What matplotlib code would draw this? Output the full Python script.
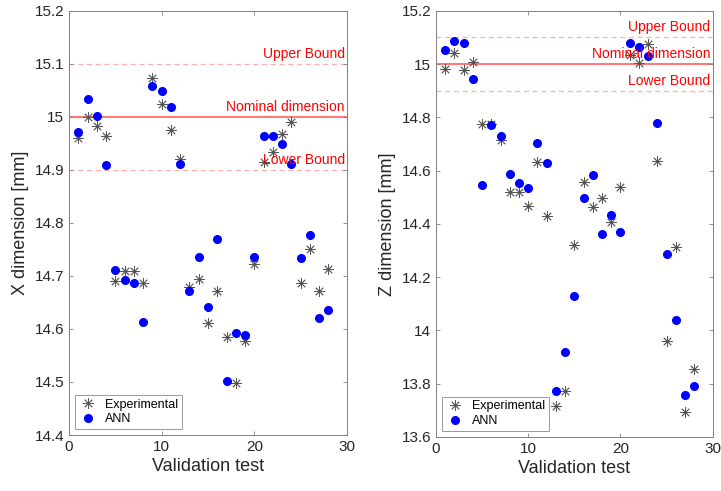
import numpy as np
import matplotlib
matplotlib.use('Agg')
import matplotlib.pyplot as plt
from matplotlib.ticker import FuncFormatter, MultipleLocator

plt.rcParams['font.family'] = ['Liberation Sans', 'DejaVu Sans']

# validation test index
tests = list(range(1, 29))

# X dimension [mm]
x_exp = [14.960, 15.000, 14.983, 14.964, 14.690, 14.710, 14.710, 14.687, 15.073, 15.024,
         14.976, 14.920, 14.679, 14.694, 14.611, 14.672, 14.585, 14.499, 14.577, 14.722,
         14.915, 14.933, 14.968, 14.990, 14.687, 14.750, 14.672, 14.714]
x_ann = [14.972, 15.033, 15.001, 14.909, 14.712, 14.692, 14.687, 14.613, 15.058, 15.048,
         15.019, 14.911, 14.671, 14.736, 14.641, 14.769, 14.501, 14.592, 14.588, 14.735,
         14.964, 14.964, 14.948, 14.911, 14.733, 14.777, 14.621, 14.636]

# Z dimension [mm]
z_exp = [14.982, 15.041, 14.976, 15.006, 14.776, 14.775, 14.715, 14.518, 14.518, 14.469,
         14.632, 14.431, 13.718, 13.771, 14.322, 14.558, 14.463, 14.497, 14.408, 14.537,
         15.035, 15.005, 15.075, 14.636, 13.959, 14.312, 13.694, 13.857]
z_ann = [15.053, 15.086, 15.079, 14.944, 14.546, 14.773, 14.731, 14.586, 14.552, 14.533,
         14.705, 14.628, 13.771, 13.918, 14.128, 14.496, 14.583, 14.363, 14.434, 14.370,
         15.080, 15.065, 15.029, 14.779, 14.286, 14.038, 13.758, 13.790]

nominal = 15.0
upper = 15.1
lower = 14.9

fig = plt.figure(figsize=(7.21, 4.91), dpi=100)
ax1 = fig.add_axes([0.0957, 0.114, 0.3856, 0.864])
ax2 = fig.add_axes([0.6047, 0.110, 0.3838, 0.868])

star = (8, 2, 0)


def style_panel(ax, exp, ann, ylim, ystep, ylabel):
    ax.plot(tests, exp, linestyle='none', marker=star, markersize=7.5,
            markeredgewidth=0.6, color='#555555', label='Experimental', zorder=3)
    ax.plot(tests, ann, linestyle='none', marker='o', markersize=5.5,
            color='#0000FF', markeredgecolor='#0000FF', label='ANN', zorder=3)

    ax.axhline(nominal, color='#FF3333', lw=1.1, alpha=0.85, zorder=1)
    ax.axhline(upper, color='#FF3333', lw=0.9, ls=(0, (4, 3)), alpha=0.4, zorder=1)
    ax.axhline(lower, color='#FF3333', lw=0.9, ls=(0, (4, 3)), alpha=0.4, zorder=1)

    for y, txt in [(upper, 'Upper Bound'), (nominal, 'Nominal dimension'), (lower, 'Lower Bound')]:
        ax.text(29.75, y + 0.006 * (ylim[1] - ylim[0]) / 0.8, txt, color='#FF0000',
                fontsize=10, ha='right', va='bottom', zorder=4)

    ax.set_xlim(0, 30)
    ax.set_ylim(*ylim)
    ax.xaxis.set_major_locator(MultipleLocator(10))
    ax.yaxis.set_major_locator(MultipleLocator(ystep))
    ax.yaxis.set_major_formatter(FuncFormatter(lambda v, p: '%g' % round(v, 2)))
    ax.tick_params(direction='in', length=3, width=0.6, color='#808080',
                   labelsize=11, labelcolor='#262626', top=True, right=True)
    for s in ax.spines.values():
        s.set_color('#808080')
        s.set_linewidth(0.7)
    ax.set_xlabel('Validation test', fontsize=13, color='#262626', labelpad=3)
    ax.set_ylabel(ylabel, fontsize=13, color='#262626', labelpad=4)

    leg = ax.legend(loc='lower left', fontsize=9, frameon=True, fancybox=False,
                    borderaxespad=0.5, handletextpad=0.6, borderpad=0.3,
                    labelspacing=0.2, handlelength=1.5)
    leg.get_frame().set_edgecolor('#808080')
    leg.get_frame().set_linewidth(0.7)


style_panel(ax1, x_exp, x_ann, (14.4, 15.2), 0.1, 'X dimension [mm]')
style_panel(ax2, z_exp, z_ann, (13.6, 15.2), 0.2, 'Z dimension [mm]')

fig.savefig('out.png', dpi=100)
